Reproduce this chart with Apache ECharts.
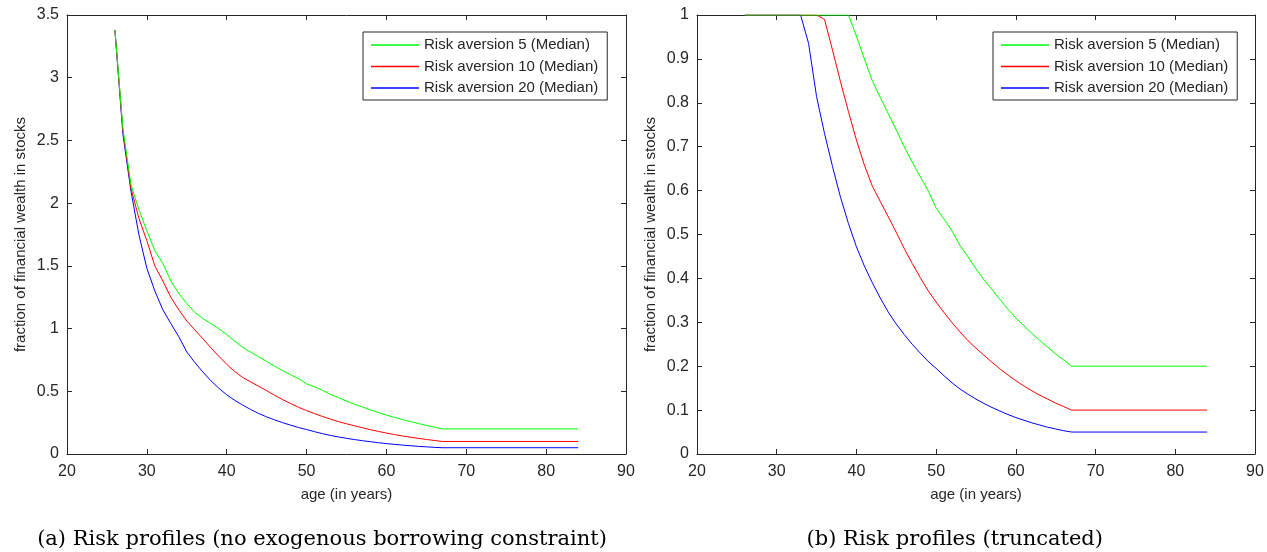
<!DOCTYPE html>
<html>
<head>
<meta charset="utf-8">
<script src="https://cdn.jsdelivr.net/npm/echarts@6/dist/echarts.min.js"></script>
<style>
html,body{margin:0;padding:0;background:#fff;}
#c{width:1267px;height:552px;}
</style>
</head>
<body>
<div id="c"></div>
<script>
// ---------- data ----------
const ages = [26,27,28,29,30,31,32,33,34,35,36,37,38,39,40,41,42,43,44,45,46,47,48,49,50,51,52,53,54,55,56,57,58,59,60,61,62,63,64,65,66,67,84];

// (a) no exogenous borrowing constraint
const green5  = [3.38,2.60,2.15,1.95,1.78,1.62,1.52,1.38,1.28,1.20,1.13,1.08,1.04,1.00,0.952,0.90,0.85,0.812,0.775,0.738,0.70,0.665,0.632,0.60,0.56,0.535,0.508,0.475,0.449,0.422,0.397,0.375,0.352,0.33,0.31,0.292,0.275,0.259,0.243,0.228,0.214,0.20,0.20];
const red10   = [3.38,2.58,2.12,1.88,1.70,1.50,1.38,1.25,1.15,1.06,0.99,0.92,0.848,0.78,0.715,0.658,0.61,0.575,0.54,0.505,0.468,0.434,0.402,0.372,0.346,0.322,0.299,0.278,0.258,0.241,0.225,0.209,0.194,0.180,0.167,0.155,0.144,0.134,0.125,0.116,0.108,0.10,0.10];
const blue20  = [3.38,2.55,2.10,1.75,1.48,1.30,1.15,1.04,0.935,0.814,0.73,0.655,0.585,0.525,0.472,0.428,0.39,0.355,0.323,0.296,0.272,0.250,0.230,0.211,0.195,0.178,0.162,0.148,0.136,0.125,0.115,0.106,0.098,0.090,0.083,0.077,0.071,0.066,0.061,0.057,0.053,0.05,0.05];

// (b) truncated
const green5T = [1,1,1,1,1,1,1,1,1,1,1,1,1,1,0.952,0.90,0.85,0.812,0.775,0.738,0.70,0.665,0.632,0.60,0.56,0.535,0.508,0.475,0.449,0.422,0.397,0.375,0.352,0.33,0.31,0.292,0.275,0.259,0.243,0.228,0.214,0.20,0.20];
const red10T  = [1,1,1,1,1,1,1,1,1,1,0.99,0.92,0.848,0.78,0.715,0.658,0.61,0.575,0.54,0.505,0.468,0.434,0.402,0.372,0.346,0.322,0.299,0.278,0.258,0.241,0.225,0.209,0.194,0.180,0.167,0.155,0.144,0.134,0.125,0.116,0.108,0.10,0.10];
const blue20T = [1,1,1,1,1,1,1,1,0.935,0.814,0.73,0.655,0.585,0.525,0.472,0.428,0.39,0.355,0.323,0.296,0.272,0.250,0.230,0.211,0.195,0.178,0.162,0.148,0.136,0.125,0.115,0.106,0.098,0.090,0.083,0.077,0.071,0.066,0.061,0.057,0.053,0.05,0.05];

const seriesNames = ['Risk aversion 5 (Median)','Risk aversion 10 (Median)','Risk aversion 20 (Median)'];
const seriesColors = ['#00ff00','#ff0000','#0000ff'];
const xTicks = {min:20, max:90, interval:10};
const yTicksA = {min:0, max:3.5, interval:0.5};
const yTicksB = {min:0, max:1, interval:0.1};
const xName = 'age (in years)';
const yName = 'fraction of financial wealth in stocks';
const captionA = '(a) Risk profiles (no exogenous borrowing constraint)';
const captionB = '(b) Risk profiles (truncated)';

// ---------- chart ----------
const pairs = vals => ages.map((a,i)=>[a, vals[i]]);
const AX = '#262626';
const FONT = '"Liberation Sans", Arial, sans-serif';
const CAPFONT = '21px "DejaVu Serif", "Liberation Serif", serif';

function mkX(gi, pos, show) {
  return {
    type:'value', gridIndex:gi, position:pos, min:xTicks.min, max:xTicks.max, interval:xTicks.interval,
    name: show ? xName : '', nameLocation:'middle', nameGap:33,
    nameTextStyle:{color:AX, fontSize:15, fontFamily:FONT},
    axisLine:{show:true, onZero:false, lineStyle:{color:AX, width:1}},
    axisTick:{show:true, inside:true, length:5, lineStyle:{color:AX}},
    axisLabel:{show:show, color:AX, fontSize:16, fontFamily:FONT, margin:10},
    splitLine:{show:false}
  };
}
function mkY(gi, pos, show, t) {
  return {
    type:'value', gridIndex:gi, position:pos, min:t.min, max:t.max, interval:t.interval,
    name: show ? yName : '', nameLocation:'middle', nameGap:39,
    nameTextStyle:{color:AX, fontSize:15, fontFamily:FONT},
    axisLine:{show:true, onZero:false, lineStyle:{color:AX, width:1}},
    axisTick:{show:true, inside:true, length:5, lineStyle:{color:AX}},
    axisLabel:{show:show, color:AX, fontSize:16, fontFamily:FONT, margin:8},
    splitLine:{show:false}
  };
}
function mkLegend(left) {
  return {
    orient:'vertical', left:left, top:32,
    padding:[5.5,9,4.5,8], itemGap:6.5, itemWidth:48, itemHeight:1.5, icon:'rect',
    borderColor:AX, borderWidth:1, backgroundColor:'#fff',
    textStyle:{color:AX, fontSize:15, fontFamily:FONT, lineHeight:15},
    data:seriesNames, selectedMode:false
  };
}
function mkSeries(xi, yi, arrs) {
  return arrs.map((v,i)=>({
    type:'line', name:seriesNames[i], xAxisIndex:xi, yAxisIndex:yi,
    data:pairs(v), showSymbol:false, symbol:'none', animation:false,
    lineStyle:{color:seriesColors[i], width:1}, itemStyle:{color:seriesColors[i]},
    z: 3 - i
  }));
}

const option = {
  animation:false,
  backgroundColor:'#fff',
  grid:[
    {left:67, right:641, top:15, bottom:98},
    {left:697, right:12, top:15, bottom:98}
  ],
  xAxis:[mkX(0,'bottom',true), mkX(0,'top',false), mkX(1,'bottom',true), mkX(1,'top',false)],
  yAxis:[mkY(0,'left',true,yTicksA), mkY(0,'right',false,yTicksA), mkY(1,'left',true,yTicksB), mkY(1,'right',false,yTicksB)],
  legend:[mkLegend(363), mkLegend(993)],
  series:[].concat(mkSeries(0,0,[green5,red10,blue20]), mkSeries(2,2,[green5T,red10T,blue20T])),
  graphic:[
    {type:'text', x:322, y:540, style:{text:captionA, font:CAPFONT, fill:'#000', textAlign:'center', textVerticalAlign:'middle'}},
    {type:'text', x:1103, y:540, style:{text:captionB, font:CAPFONT, fill:'#000', textAlign:'right', textVerticalAlign:'middle'}}
  ]
};
const chart = echarts.init(document.getElementById('c'), null, {renderer:'canvas'});
chart.setOption(option);
</script>
</body>
</html>
